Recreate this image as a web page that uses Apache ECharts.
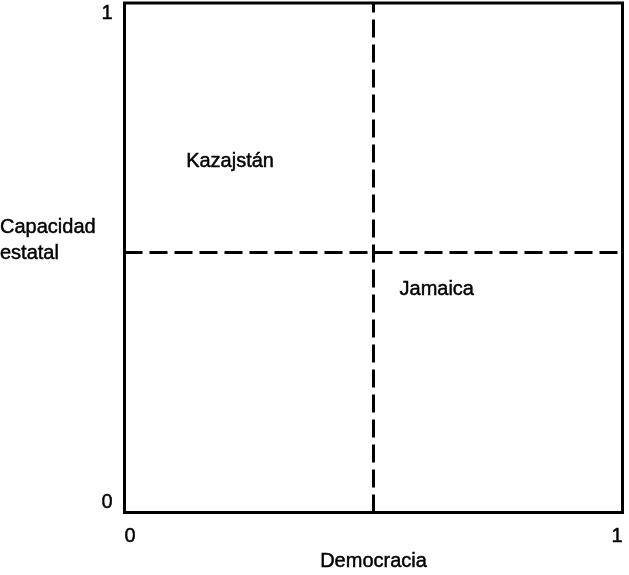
<!DOCTYPE html>
<html>
<head>
<meta charset="utf-8">
<script src="https://cdn.jsdelivr.net/npm/echarts@6/dist/echarts.min.js"></script>
<style>
html,body{margin:0;padding:0;background:#fff;}
#chart{width:629px;height:575px;}
</style>
</head>
<body>
<div id="chart"></div>
<script>
const countries = ['Kazajstán', 'Jamaica'];
const democracia = [0.212, 0.627];
const capacidadEstatal = [0.688, 0.437];
const xDivider = [0.498];
const yDivider = [0.512];
const xAxisTitle = 'Democracia';
const yAxisTitle = 'Capacidad\nestatal';

const FONT = '"Liberation Sans", Arial, Helvetica, sans-serif';
const TXT = {fontFamily: FONT, fontSize: 20, fontWeight: 'normal', color: '#000', textBorderColor: '#000', textBorderWidth: 0.45};
const chart = echarts.init(document.getElementById('chart'), null, {renderer: 'canvas'});

const pointData = countries.map((c, i) => ({name: c, value: [democracia[i], capacidadEstatal[i]]}));

chart.setOption({
  animation: false,
  backgroundColor: '#ffffff',
  title: {
    text: yAxisTitle,
    left: 0,
    top: 214,
    padding: 0,
    textStyle: Object.assign({}, TXT, {lineHeight: 26})
  },
  grid: {
    show: true,
    left: 124.5,
    top: 3,
    width: 498,
    height: 509.5,
    borderColor: '#000',
    borderWidth: 3,
    backgroundColor: 'transparent',
    containLabel: false,
    outerBoundsMode: 'none'
  },
  xAxis: {
    type: 'value',
    min: 0,
    max: 1,
    interval: 1,
    name: xAxisTitle,
    nameLocation: 'middle',
    nameGap: 39,
    nameTextStyle: Object.assign({}, TXT),
    axisLine: {show: false},
    axisTick: {show: false},
    splitLine: {show: false},
    axisLabel: Object.assign({}, TXT, {
      margin: 14,
      alignMinLabel: 'left', alignMaxLabel: 'right'
    })
  },
  yAxis: {
    type: 'value',
    min: 0,
    max: 1,
    interval: 1,
    axisLine: {show: false},
    axisTick: {show: false},
    splitLine: {show: false},
    axisLabel: Object.assign({}, TXT, {
      margin: 12,
      verticalAlignMinLabel: 'bottom', verticalAlignMaxLabel: 'top'
    })
  },
  series: [{
    type: 'scatter',
    data: pointData,
    symbolSize: 0,
    silent: true,
    itemStyle: {opacity: 1},
    label: Object.assign({}, TXT, {
      show: true,
      position: 'inside',
      formatter: p => p.name
    }),
    markLine: {
      silent: true,
      symbol: ['none', 'none'],
      label: {show: false},
      lineStyle: {color: '#000', width: 3, type: [18, 7], opacity: 1},
      emphasis: {disabled: true},
      data: [
        ...xDivider.map(v => ({xAxis: v})),
        ...yDivider.map(v => ({yAxis: v}))
      ]
    }
  }]
});
</script>
</body>
</html>
